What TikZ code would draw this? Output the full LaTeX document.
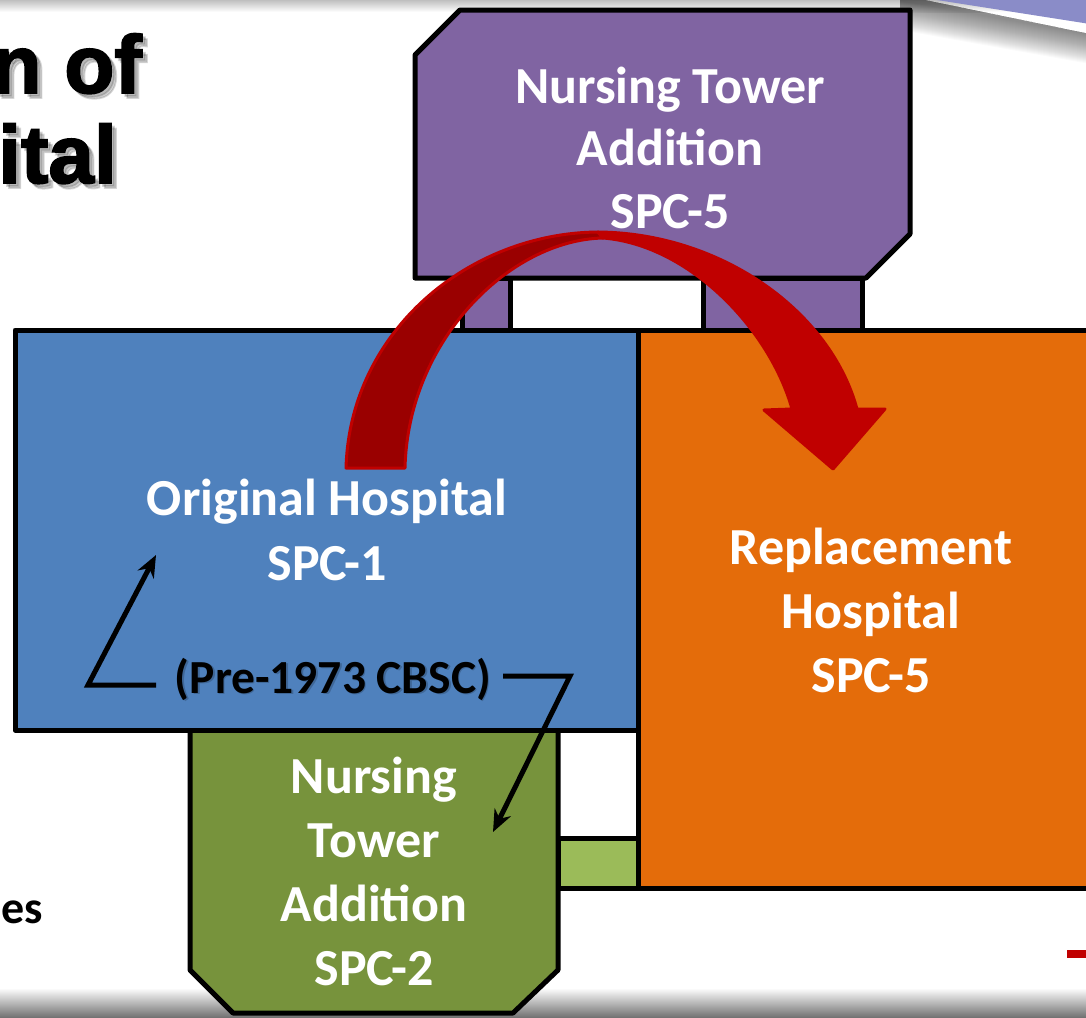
\documentclass[tikz,border=0pt]{standalone}
\usepackage{fontspec}
\setmainfont{Carlito}
\newfontfamily\titlefont[FakeBold=2.2]{Liberation Sans}
\usetikzlibrary{arrows.meta}
\definecolor{purp}{HTML}{8064A2}
\definecolor{blu}{HTML}{4F81BD}
\definecolor{ora}{HTML}{E46C0A}
\definecolor{grn}{HTML}{77933C}
\definecolor{lgrn}{HTML}{9BBB59}
\definecolor{rd}{HTML}{C00000}
\definecolor{drd}{HTML}{9A0000}
\definecolor{band}{HTML}{8A8CC8}
\begin{document}
\begin{tikzpicture}[x=1pt,y=-1pt,
  box/.style={draw=black,line width=5pt,line join=round},
  lbl/.style={text=white,inner sep=0pt,anchor=base},
  conn/.style={draw=black,line width=5pt,-{Stealth[length=22pt,width=18pt]}},
  redpart/.style={draw=rd,line width=3pt,line join=round},
  titletxt/.style={anchor=base east,inner sep=0pt,font=\titlefont\bfseries\fontsize{82}{86}\selectfont},
]
\useasboundingbox (0,0) rectangle (1086,1017);
\clip (0,0) rectangle (1086,1017);
% slide background effects
\shade[top color=black!25,bottom color=white] (0,0) rectangle (1086,12);
\shade[top color=white,bottom color=black!55] (0,988) rectangle (1086,1017);
\foreach \i in {0,...,29}
  \fill[black,opacity=0.02] (900,0) -- (925,0) -- (1090,34) -- (1090,{64-\i}) -- (900,{30-\i}) -- cycle;
\fill[band] (937,0) -- (1090,0) -- (1090,24) -- cycle;
% title fragments (with soft shadow)
\node[titletxt,text=black,opacity=0.15] (t1s) at (147,98) {n of};
\node[titletxt,text=black,opacity=0.15] (t1s2) at (145,96) {n of};
\node[titletxt] (t1) at (142,93) {n of};
\node[titletxt,text=black,opacity=0.15] (t2s) at (122,188) {ital};
\node[titletxt,text=black,opacity=0.15] (t2s2) at (120,186) {ital};
\node[titletxt] (t2) at (117,183) {ital};
\node[anchor=base east,inner sep=0pt,font=\fontsize{46}{50}\selectfont\bfseries] (es) at (43,923) {es};
\fill[rd] (1067,950) rectangle (1090,958);
% buildings
\filldraw[box,fill=purp] (462,278) rectangle (510,330);
\filldraw[box,fill=purp] (703,278) rectangle (862,330);
\filldraw[box,fill=purp] (415,55) -- (460,10) -- (910,10) -- (910,234) -- (866,278) -- (415,278) -- cycle;
\filldraw[box,fill=grn] (190,730) -- (558,730) -- (558,970) -- (513,1013) -- (233,1013) -- (190,970) -- cycle;
\filldraw[box,fill=lgrn] (558,838) rectangle (638,888);
\filldraw[box,fill=blu] (15,330) rectangle (638,730);
\filldraw[box,fill=ora] (638,330) rectangle (1100,888);
% labels
\node[lbl,font=\fontsize{52}{62.5}\selectfont\bfseries] (ptxt) at (670,103)
  {\begin{tabular}[t]{@{}c@{}}Nursing Tower\\Addition\\SPC-5\end{tabular}};
\node[lbl,font=\fontsize{52}{65}\selectfont\bfseries] (btxt) at (327,515)
  {\begin{tabular}[t]{@{}c@{}}Original Hospital\\SPC-1\end{tabular}};
\node[lbl,font=\fontsize{52}{64}\selectfont\bfseries] (otxt) at (871,564)
  {\begin{tabular}[t]{@{}c@{}}Replacement\\Hospital\\SPC-5\end{tabular}};
\node[lbl,font=\fontsize{52}{64}\selectfont\bfseries] (gtxt) at (374,793)
  {\begin{tabular}[t]{@{}c@{}}Nursing\\Tower\\Addition\\SPC-2\end{tabular}};
\node[anchor=base,inner sep=0pt,text=black,opacity=0.2,font=\fontsize{47.5}{50}\selectfont\bfseries] (pres) at (334.5,694.5) {(Pre-1973 CBSC)};
\node[anchor=base,inner sep=0pt,font=\fontsize{47.5}{50}\selectfont\bfseries] (pre) at (333,693) {(Pre-1973 CBSC)};
% connectors
\coordinate (l0) at (156,685);
\coordinate (l1) at (88,685);
\coordinate (l2) at (156,555);
\coordinate (r0) at (503,676);
\coordinate (r1) at (570,676);
\coordinate (r2) at (493,832);
\draw[conn] (l0) -- (l1) -- (l2);
\draw[conn] (r0) -- (r1) -- (r2);
% big curved arrow
\filldraw[redpart,fill=drd] (346,468) .. controls (350,330) and (470,233) .. (598,232)
  -- (603,238) .. controls (510,240) and (408,340) .. (405,468) -- cycle;
\filldraw[redpart,fill=rd] (598,232) .. controls (720,233) and (830,310) .. (857,409)
  -- (885,409) -- (833,469) -- (764,410) -- (792,409)
  .. controls (770,330) and (690,245) .. (603,238) -- cycle;
\end{tikzpicture}
\end{document}
